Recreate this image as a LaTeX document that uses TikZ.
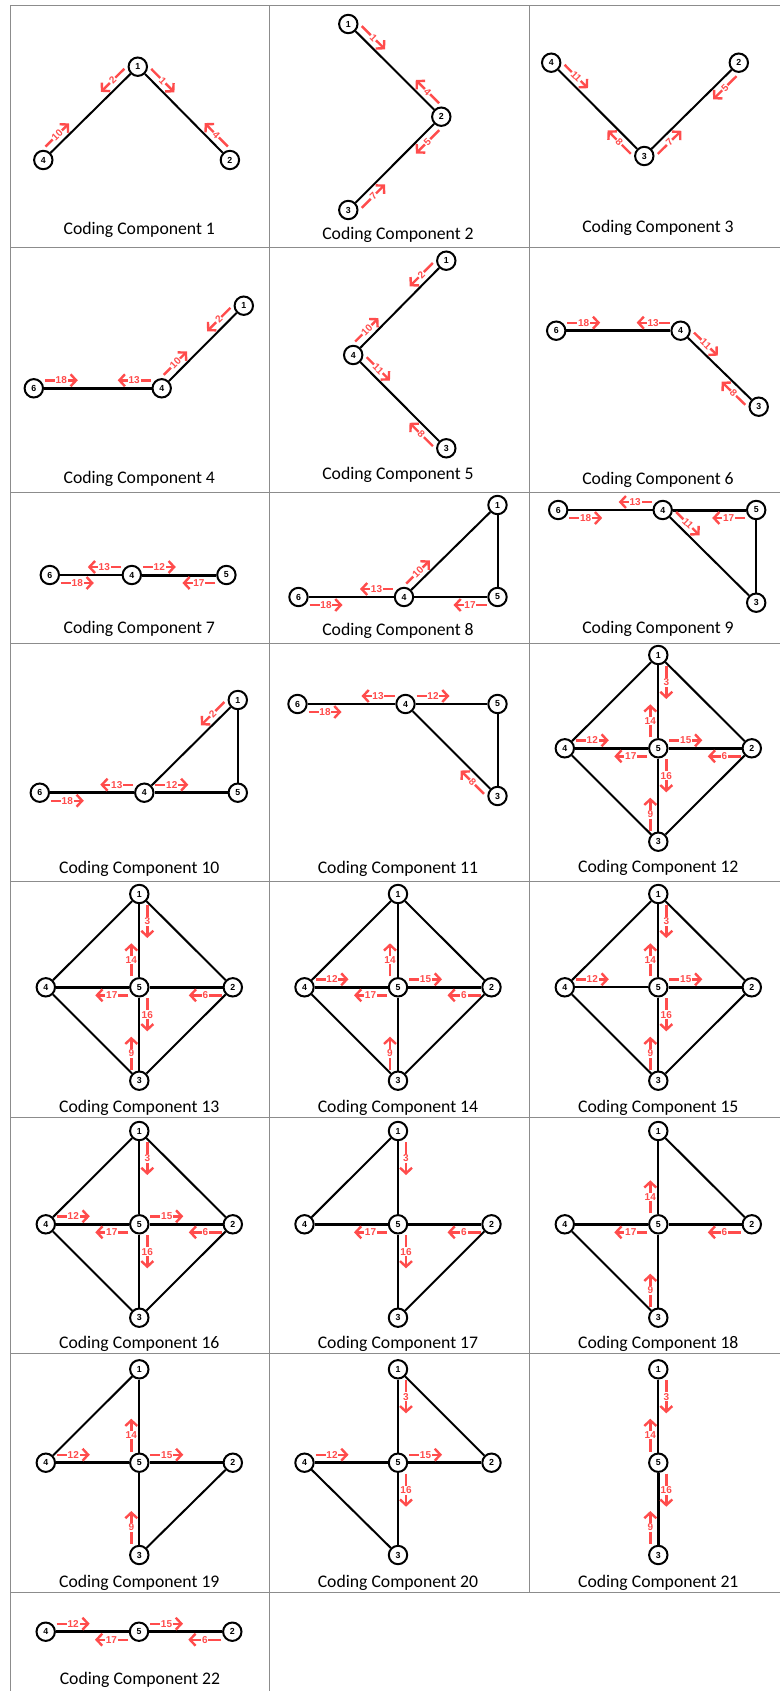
\documentclass[tikz,border=0pt]{standalone}
\usepackage{fontspec}
\usepackage{tikz}
\usetikzlibrary{arrows.meta, calc}

\newfontfamily\capfont{Carlito}
\newfontfamily\numfont{Liberation Sans}
\definecolor{flowred}{RGB}{255,76,76}

\def\flowa{5.5pt}
\def\flowb{22pt}
\def\fgap{4pt}

% red flow arrow beside the edge #2--#3, starting near #2
\newcommand{\flow}[5][sloped]{%
  \draw[flow] ($(#2)!\flowa!(#3)!#4!90:(#3)$) -- node[flowlabel,#1] {#5} ($(#2)!\flowb!(#3)!#4!90:(#3)$);
}

% five-node layout of components 12-20
\newcommand{\diamondnodes}[4]{%
  \node[vertex] (n1) at (#1,#2) {1};
  \node[vertex] (n4) at (#1-93.5,#3) {4};
  \node[vertex] (n5) at (#1,#3) {5};
  \node[vertex] (n2) at (#1+93.5,#3) {2};
  \node[vertex] (n3) at (#1,#4) {3};
}

\begin{document}
\begin{tikzpicture}[
    x=0.5pt, y=-0.5pt,
    vertex/.style={circle, draw, line width=1pt, minimum size=9.2pt, inner sep=0pt,
        font=\fontsize{4.4}{5}\selectfont\numfont\bfseries},
    bond/.style={line width=1pt},
    heavybond/.style={line width=1.5pt},
    flow/.style={draw=flowred, line width=1.2pt, -{Straight Barb[length=2.8pt, width=6pt]}},
    flowlabel/.style={text=flowred, fill=white, inner sep=0.4pt,
        font=\fontsize{5}{5.5}\selectfont\numfont\bfseries},
    capt/.style={font=\fontsize{8.85}{10}\selectfont\capfont},
    tablerule/.style={draw=black!45, line width=0.5pt}
]
\useasboundingbox (0,0) rectangle (780,1691);

% -------- Table --------
\foreach \y in {6,247,492,643,881.5,1117.7,1353.3,1592.7}
    \draw[tablerule] (10,\y) -- (780,\y);
\draw[tablerule] (10,6) -- (10,1691);
\draw[tablerule] (269.5,6) -- (269.5,1691);
\draw[tablerule] (529,6) -- (529,1592.7);

% -------- Component 1 --------
\begin{scope}[name prefix=c1-]
\node[vertex] (n1) at (137.8,66.7) {1};
\node[vertex] (n4) at (43.3,160) {4};
\node[vertex] (n2) at (229.9,160) {2};
\draw[bond] (n1) -- (n4);
\draw[bond] (n1) -- (n2);
\flow{n1}{n4}{-\fgap}{2}
\flow{n4}{n1}{\fgap}{10}
\flow{n1}{n2}{\fgap}{1}
\flow{n2}{n1}{-\fgap}{4}
\node[capt] (cap) at (139.3,230) {Coding Component 1};
\end{scope}

% -------- Component 2 --------
\begin{scope}[name prefix=c2-]
\node[vertex] (n1) at (348.3,24) {1};
\node[vertex] (n2) at (441.3,116.7) {2};
\node[vertex] (n3) at (348.3,210) {3};
\draw[bond] (n1) -- (n2);
\draw[bond] (n2) -- (n3);
\flow{n1}{n2}{\fgap}{1}
\flow{n2}{n1}{-\fgap}{4}
\flow{n2}{n3}{\fgap}{5}
\flow{n3}{n2}{-\fgap}{7}
\node[capt] (cap) at (398,235) {Coding Component 2};
\end{scope}

% -------- Component 3 --------
\begin{scope}[name prefix=c3-]
\node[vertex] (n4) at (551.2,62.7) {4};
\node[vertex] (n2) at (738.8,62.7) {2};
\node[vertex] (n3) at (644.3,156) {3};
\draw[bond] (n4) -- (n3);
\draw[bond] (n3) -- (n2);
\flow{n4}{n3}{\fgap}{11}
\flow{n3}{n4}{\fgap}{8}
\flow{n3}{n2}{-\fgap}{7}
\flow{n2}{n3}{\fgap}{5}
\node[capt] (cap) at (658,227.7) {Coding Component 3};
\end{scope}

% -------- Component 4 --------
\begin{scope}[name prefix=c4-]
\node[vertex] (n1) at (243.8,305.7) {1};
\node[vertex] (n4) at (161.7,388.3) {4};
\node[vertex] (n6) at (33.8,388.3) {6};
\draw[bond] (n1) -- (n4);
\draw[heavybond] (n4) -- (n6);
\flow{n1}{n4}{-\fgap}{2}
\flow{n4}{n1}{\fgap}{10}
\flow{n4}{n6}{-\fgap}{13}
\flow{n6}{n4}{\fgap}{18}
\node[capt] (cap) at (139.3,479.3) {Coding Component 4};
\end{scope}

% -------- Component 5 --------
\begin{scope}[name prefix=c5-]
\node[vertex] (n1) at (446.3,260.7) {1};
\node[vertex] (n4) at (353.2,355) {4};
\node[vertex] (n3) at (446.3,448.3) {3};
\draw[bond] (n1) -- (n4);
\draw[bond] (n4) -- (n3);
\flow{n1}{n4}{-\fgap}{2}
\flow{n4}{n1}{\fgap}{10}
\flow{n4}{n3}{\fgap}{11}
\flow{n3}{n4}{\fgap}{8}
\node[capt] (cap) at (398,475) {Coding Component 5};
\end{scope}

% -------- Component 6 --------
\begin{scope}[name prefix=c6-]
\node[vertex] (n6) at (556.2,330.7) {6};
\node[vertex] (n4) at (680.6,330.7) {4};
\node[vertex] (n3) at (758.7,406.7) {3};
\draw[heavybond] (n6) -- (n4);
\draw[bond] (n4) -- (n3);
\flow{n6}{n4}{\fgap}{18}
\flow{n4}{n6}{-\fgap}{13}
\flow{n4}{n3}{\fgap}{11}
\flow{n3}{n4}{\fgap}{8}
\node[capt] (cap) at (658,480) {Coding Component 6};
\end{scope}

% -------- Component 7 --------
\begin{scope}[name prefix=c7-]
\node[vertex] (n6) at (49.8,575) {6};
\node[vertex] (n4) at (131.8,575) {4};
\node[vertex] (n5) at (226.4,575) {5};
\draw[bond] (n6) -- (n4);
\draw[heavybond] (n4) -- (n5);
\flow{n4}{n6}{-\fgap}{13}
\flow{n4}{n5}{\fgap}{12}
\flow{n6}{n4}{-\fgap}{18}
\flow{n5}{n4}{\fgap}{17}
\node[capt] (cap) at (139.3,629.3) {Coding Component 7};
\end{scope}

% -------- Component 8 --------
\begin{scope}[name prefix=c8-]
\node[vertex] (n1) at (497.5,505) {1};
\node[vertex] (n5) at (497.5,597) {5};
\node[vertex] (n4) at (404,597) {4};
\node[vertex] (n6) at (298.5,597) {6};
\draw[bond] (n1) -- (n4);
\draw[bond] (n1) -- (n5);
\draw[bond] (n4) -- (n5);
\draw[bond] (n6) -- (n4);
\flow{n4}{n1}{\fgap}{10}
\flow{n4}{n6}{-\fgap}{13}
\flow{n6}{n4}{-\fgap}{18}
\flow{n5}{n4}{\fgap}{17}
\node[capt] (cap) at (398,630.7) {Coding Component 8};
\end{scope}

% -------- Component 9 --------
\begin{scope}[name prefix=c9-]
\node[vertex] (n6) at (558.2,510) {6};
\node[vertex] (n4) at (662.7,510) {4};
\node[vertex] (n5) at (756.2,510) {5};
\node[vertex] (n3) at (756.2,602.7) {3};
\draw[bond] (n6) -- (n4);
\draw[heavybond] (n4) -- (n5);
\draw[bond] (n4) -- (n3);
\draw[bond] (n5) -- (n3);
\flow{n4}{n6}{-\fgap}{13}
\flow{n6}{n4}{-\fgap}{18}
\flow{n5}{n4}{\fgap}{17}
\flow{n4}{n3}{\fgap}{11}
\node[capt] (cap) at (658,629.3) {Coding Component 9};
\end{scope}

% -------- Component 10 --------
\begin{scope}[name prefix=c10-]
\node[vertex] (n1) at (237.8,700) {1};
\node[vertex] (n5) at (237.8,792.7) {5};
\node[vertex] (n4) at (144.3,792.7) {4};
\node[vertex] (n6) at (39.8,792.7) {6};
\draw[bond] (n1) -- (n4);
\draw[bond] (n1) -- (n5);
\draw[heavybond] (n4) -- (n5);
\draw[heavybond] (n6) -- (n4);
\flow{n1}{n4}{-\fgap}{2}
\flow{n4}{n6}{-\fgap}{13}
\flow{n4}{n5}{\fgap}{12}
\flow{n6}{n4}{-\fgap}{18}
\node[capt] (cap) at (139.3,869.3) {Coding Component 10};
\end{scope}

% -------- Component 11 --------
\begin{scope}[name prefix=c11-]
\node[vertex] (n6) at (297.5,704) {6};
\node[vertex] (n4) at (405.5,704) {4};
\node[vertex] (n5) at (497.5,704) {5};
\node[vertex] (n3) at (497.5,796) {3};
\draw[bond] (n6) -- (n4);
\draw[bond] (n4) -- (n5);
\draw[bond] (n4) -- (n3);
\draw[bond] (n5) -- (n3);
\flow{n4}{n6}{-\fgap}{13}
\flow{n4}{n5}{\fgap}{12}
\flow{n6}{n4}{-\fgap}{18}
\flow{n3}{n4}{\fgap}{8}
\node[capt] (cap) at (398,869.3) {Coding Component 11};
\end{scope}

% -------- Component 12 --------
\begin{scope}[name prefix=c12-]
\diamondnodes{658.3}{655}{748.3}{841.7}
\foreach \a/\b in {1/4, 1/2, 1/5, 4/3, 2/3, 5/3}
    \draw[bond] (n\a) -- (n\b);
\draw[heavybond] (n4) -- (n5);
\draw[heavybond] (n5) -- (n2);
\foreach \a/\b/\t in {1/5/3, 5/1/14, 4/5/12, 5/2/15, 5/4/17, 2/5/6, 5/3/16, 3/5/9}
    {\flow[]{n\a}{n\b}{\fgap}{\t}}
\node[capt] (cap) at (658.3,868.3) {Coding Component 12};
\end{scope}

% -------- Component 13 --------
\begin{scope}[name prefix=c13-]
\diamondnodes{139.3}{894}{987.3}{1080.7}
\foreach \a/\b in {1/4, 1/2, 1/5, 4/3, 2/3, 5/3}
    \draw[bond] (n\a) -- (n\b);
\draw[heavybond] (n4) -- (n5);
\draw[heavybond] (n5) -- (n2);
\foreach \a/\b/\t in {1/5/3, 5/1/14, 5/4/17, 2/5/6, 5/3/16, 3/5/9}
    {\flow[]{n\a}{n\b}{\fgap}{\t}}
\node[capt] (cap) at (139.3,1107.7) {Coding Component 13};
\end{scope}

% -------- Component 14 --------
\begin{scope}[name prefix=c14-]
\diamondnodes{398}{894}{987.3}{1080.7}
\foreach \a/\b in {1/4, 1/2, 1/5, 4/3, 2/3, 5/3}
    \draw[bond] (n\a) -- (n\b);
\draw[heavybond] (n4) -- (n5);
\draw[heavybond] (n5) -- (n2);
\foreach \a/\b/\t in {5/1/14, 4/5/12, 5/2/15, 5/4/17, 2/5/6, 3/5/9}
    {\flow[]{n\a}{n\b}{\fgap}{\t}}
\node[capt] (cap) at (398,1107.7) {Coding Component 14};
\end{scope}

% -------- Component 15 --------
\begin{scope}[name prefix=c15-]
\diamondnodes{658.3}{894}{987.3}{1080.7}
\foreach \a/\b in {1/4, 1/2, 1/5, 4/3, 2/3, 5/3, 4/5}
    \draw[bond] (n\a) -- (n\b);
\draw[heavybond] (n5) -- (n2);
\foreach \a/\b/\t in {1/5/3, 5/1/14, 4/5/12, 5/2/15, 5/3/16, 3/5/9}
    {\flow[]{n\a}{n\b}{\fgap}{\t}}
\node[capt] (cap) at (658.3,1107.7) {Coding Component 15};
\end{scope}

% -------- Component 16 --------
\begin{scope}[name prefix=c16-]
\diamondnodes{139.3}{1131}{1224.3}{1317.7}
\foreach \a/\b in {1/4, 1/2, 1/5, 4/3, 2/3, 5/3}
    \draw[bond] (n\a) -- (n\b);
\draw[heavybond] (n4) -- (n5);
\draw[heavybond] (n5) -- (n2);
\foreach \a/\b/\t in {1/5/3, 4/5/12, 5/2/15, 5/4/17, 2/5/6, 5/3/16}
    {\flow[]{n\a}{n\b}{\fgap}{\t}}
\node[capt] (cap) at (139.3,1344.3) {Coding Component 16};
\end{scope}

% -------- Component 17 --------
\begin{scope}[name prefix=c17-]
\diamondnodes{398}{1131}{1224.3}{1317.7}
\foreach \a/\b in {1/4, 1/5, 2/3, 5/3}
    \draw[bond] (n\a) -- (n\b);
\draw[heavybond] (n4) -- (n5);
\draw[heavybond] (n5) -- (n2);
\foreach \a/\b/\t in {1/5/3, 5/4/17, 2/5/6, 5/3/16}
    {\flow[]{n\a}{n\b}{\fgap}{\t}}
\node[capt] (cap) at (398,1344.3) {Coding Component 17};
\end{scope}

% -------- Component 18 --------
\begin{scope}[name prefix=c18-]
\diamondnodes{658.3}{1131}{1224.3}{1317.7}
\foreach \a/\b in {1/5, 1/2, 4/3, 5/3}
    \draw[bond] (n\a) -- (n\b);
\draw[heavybond] (n4) -- (n5);
\draw[heavybond] (n5) -- (n2);
\foreach \a/\b/\t in {5/1/14, 5/4/17, 2/5/6, 3/5/9}
    {\flow[]{n\a}{n\b}{\fgap}{\t}}
\node[capt] (cap) at (658.3,1344.3) {Coding Component 18};
\end{scope}

% -------- Component 19 --------
\begin{scope}[name prefix=c19-]
\diamondnodes{139.3}{1369.3}{1462.7}{1555}
\foreach \a/\b in {1/4, 1/5, 2/3, 5/3}
    \draw[bond] (n\a) -- (n\b);
\draw[heavybond] (n4) -- (n5);
\draw[heavybond] (n5) -- (n2);
\foreach \a/\b/\t in {5/1/14, 4/5/12, 5/2/15, 3/5/9}
    {\flow[]{n\a}{n\b}{\fgap}{\t}}
\node[capt] (cap) at (139.3,1582.7) {Coding Component 19};
\end{scope}

% -------- Component 20 --------
\begin{scope}[name prefix=c20-]
\diamondnodes{398}{1369.3}{1462.7}{1555}
\foreach \a/\b in {1/5, 1/2, 4/3, 5/3}
    \draw[bond] (n\a) -- (n\b);
\draw[heavybond] (n4) -- (n5);
\draw[heavybond] (n5) -- (n2);
\foreach \a/\b/\t in {1/5/3, 4/5/12, 5/2/15, 5/3/16}
    {\flow[]{n\a}{n\b}{\fgap}{\t}}
\node[capt] (cap) at (398,1582.7) {Coding Component 20};
\end{scope}

% -------- Component 21 --------
\begin{scope}[name prefix=c21-]
\node[vertex] (n1) at (658.3,1369.3) {1};
\node[vertex] (n5) at (658.3,1462.7) {5};
\node[vertex] (n3) at (658.3,1555) {3};
\draw[bond] (n1) -- (n5);
\draw[heavybond] (n5) -- (n3);
\foreach \a/\b/\t in {1/5/3, 5/1/14, 5/3/16, 3/5/9}
    {\flow[]{n\a}{n\b}{\fgap}{\t}}
\node[capt] (cap) at (658.3,1582.7) {Coding Component 21};
\end{scope}

% -------- Component 22 --------
\begin{scope}[name prefix=c22-]
\node[vertex] (n4) at (45.7,1631.7) {4};
\node[vertex] (n5) at (139,1631.7) {5};
\node[vertex] (n2) at (232.3,1631.7) {2};
\draw[heavybond] (n4) -- (n5);
\draw[heavybond] (n5) -- (n2);
\foreach \a/\b/\t in {4/5/12, 5/2/15, 5/4/17, 2/5/6}
    {\flow[]{n\a}{n\b}{\fgap}{\t}}
\node[capt] (cap) at (140,1680) {Coding Component 22};
\end{scope}

\end{tikzpicture}
\end{document}
